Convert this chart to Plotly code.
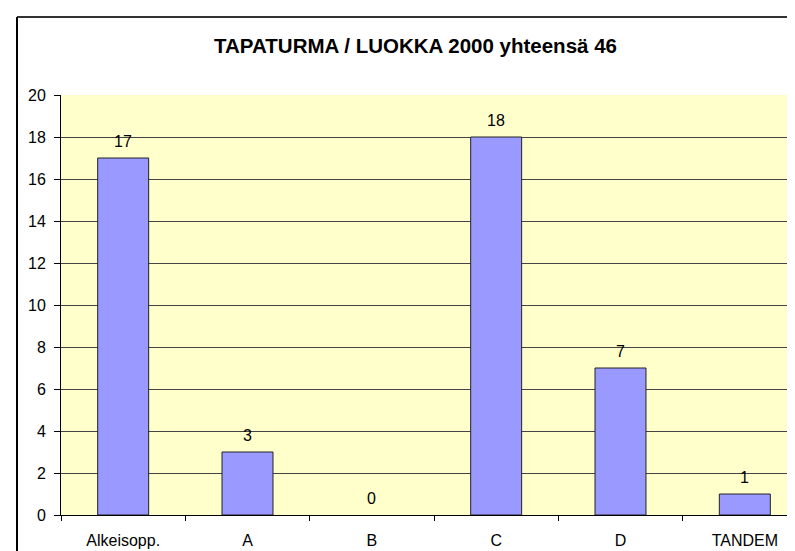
import plotly.graph_objects as go

categories = ["Alkeisopp.", "A", "B", "C", "D", "TANDEM"]
values = [17, 3, 0, 18, 7, 1]
y_ticks = [0, 2, 4, 6, 8, 10, 12, 14, 16, 18, 20]
title_text = "TAPATURMA / LUOKKA 2000 yhteensä 46"

W, H = 795, 551
L, T, R, B = 53, 87, 0, 44
pw = W - L - R
ph = H - T - B
FONT = "Liberation Sans, Arial, sans-serif"

fig = go.Figure(
    go.Bar(
        x=categories,
        y=values,
        width=0.41,
        marker=dict(color="#9999FF",
                    line=dict(color="#222222", width=[1 if v > 0 else 0 for v in values])),
        cliponaxis=False,
        hoverinfo="x+y",
    )
)

# value labels above the bars
for c, v in zip(categories, values):
    fig.add_annotation(x=c, y=v, text=str(v), showarrow=False, xref="x", yref="y",
                       yanchor="bottom", yshift=6,
                       font=dict(family=FONT, size=16, color="#000000"))

# outer chart frame (top and left edges visible in the crop)
bx = (9 - L) / pw
by = (H - B - 9) / ph
fig.add_shape(type="line", xref="paper", yref="paper", x0=bx, x1=1.2, y0=by, y1=by,
              line=dict(color="#333333", width=2))
fig.add_shape(type="line", xref="paper", yref="paper", x0=bx, x1=bx, y0=-0.5, y1=by,
              line=dict(color="#000000", width=2))

fig.update_layout(
    width=W, height=H,
    margin=dict(l=L, r=R, t=T, b=B, pad=0),
    paper_bgcolor="#FFFFFF",
    plot_bgcolor="#FFFFCC",
    showlegend=False,
    font=dict(family=FONT, size=16, color="#000000"),
    title=dict(text="<b>" + title_text + "</b>", x=407.5 / W, xanchor="center",
               y=1 - 38 / H, yanchor="middle",
               font=dict(family=FONT, size=20.5, color="#000000")),
)
fig.update_xaxes(
    range=[-0.5, 5.5 - 4 / 124.4],
    tickson="boundaries", ticks="outside", ticklen=5, tickcolor="#000000",
    showline=True, linecolor="#000000", linewidth=1,
    showgrid=False, zeroline=False,
    tickfont=dict(family=FONT, size=16), ticklabelstandoff=11,
)
fig.update_yaxes(
    range=[0, 20], tickvals=y_ticks, ticks="outside", ticklen=6, tickcolor="#000000",
    showline=True, linecolor="#000000", linewidth=1,
    showgrid=True, gridcolor="#444444", gridwidth=1, zeroline=False,
    tickfont=dict(family=FONT, size=16), ticklabelstandoff=5,
)

fig.write_html("out.html")
